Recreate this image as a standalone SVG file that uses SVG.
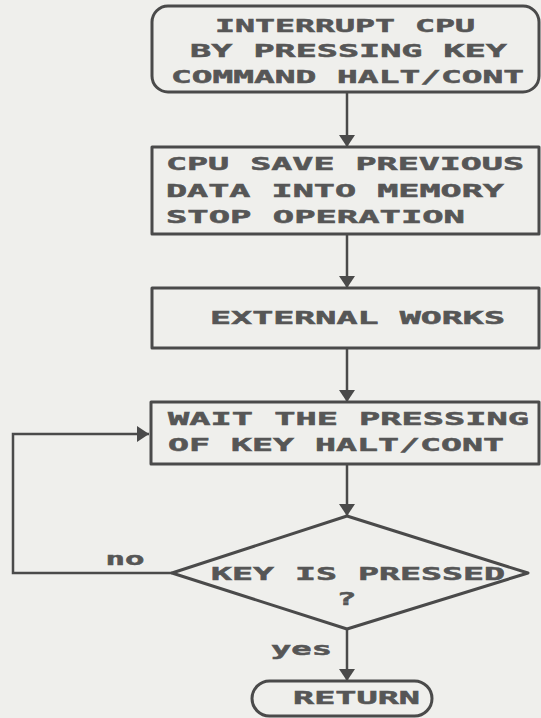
<svg xmlns="http://www.w3.org/2000/svg" width="541" height="718" viewBox="0 0 541 718">
  <style>
    .shape { fill: none; stroke: #4a4a4a; stroke-width: 3; stroke-linejoin: round; }
    .edge { fill: none; stroke: #4a4a4a; stroke-width: 2.5; }
    .lbl { font-family: "DejaVu Sans Mono", "Liberation Mono", monospace; font-weight: bold; font-size: 17.5px; fill: #565656; stroke: #565656; stroke-width: 0.5; }
    .mid { text-anchor: middle; }
  </style>
  <defs>
    <marker id="head" markerUnits="userSpaceOnUse" markerWidth="14" markerHeight="18" refX="12" refY="8" orient="auto">
      <path d="M0,0 L12,8 L0,16 Z" fill="#4a4a4a"/>
    </marker>
  </defs>

  <rect x="0" y="0" width="541" height="718" fill="#efefec"/>

  <!-- connectors -->
  <g id="connectors">
    <line class="edge" x1="347" y1="93" x2="347" y2="147" marker-end="url(#head)"/>
    <line class="edge" x1="347" y1="234" x2="347" y2="288" marker-end="url(#head)"/>
    <line class="edge" x1="347" y1="348" x2="347" y2="402" marker-end="url(#head)"/>
    <line class="edge" x1="347" y1="464" x2="347" y2="516" marker-end="url(#head)"/>
    <polyline class="edge" points="172,573 13,573 13,434 149,434" marker-end="url(#head)"/>
    <line class="edge" x1="347" y1="629" x2="347" y2="681" marker-end="url(#head)"/>
    <text class="lbl mid" x="125" y="565" textLength="39" lengthAdjust="spacingAndGlyphs">no</text>
    <text class="lbl mid" x="301.5" y="655" textLength="61" lengthAdjust="spacingAndGlyphs">yes</text>
  </g>

  <!-- start terminator -->
  <g id="start">
    <rect class="shape" x="152" y="6" width="387" height="86" rx="16" ry="16"/>
    <text class="lbl mid" x="345" y="32" textLength="260" lengthAdjust="spacingAndGlyphs">INTERRUPT CPU</text>
    <text class="lbl mid" x="348.5" y="57" textLength="317" lengthAdjust="spacingAndGlyphs">BY PRESSING KEY</text>
    <text class="lbl mid" x="347.5" y="83" textLength="353" lengthAdjust="spacingAndGlyphs">COMMAND HALT/CONT</text>
  </g>

  <!-- save state -->
  <g id="save">
    <rect class="shape" x="152" y="147" width="387" height="87"/>
    <text class="lbl" x="166" y="170" textLength="358" lengthAdjust="spacingAndGlyphs">CPU SAVE PREVIOUS</text>
    <text class="lbl" x="166" y="197" textLength="338" lengthAdjust="spacingAndGlyphs">DATA INTO MEMORY</text>
    <text class="lbl" x="166" y="223" textLength="299" lengthAdjust="spacingAndGlyphs">STOP OPERATION</text>
  </g>

  <!-- external works -->
  <g id="external">
    <rect class="shape" x="152" y="288" width="387" height="60"/>
    <text class="lbl mid" x="357.5" y="324" textLength="295" lengthAdjust="spacingAndGlyphs">EXTERNAL WORKS</text>
  </g>

  <!-- wait for key -->
  <g id="wait">
    <rect class="shape" x="151" y="402" width="388" height="62"/>
    <text class="lbl" x="168" y="425" textLength="361" lengthAdjust="spacingAndGlyphs">WAIT THE PRESSING</text>
    <text class="lbl" x="168" y="451" textLength="336" lengthAdjust="spacingAndGlyphs">OF KEY HALT/CONT</text>
  </g>

  <!-- decision -->
  <g id="decision">
    <polygon class="shape" points="347,516 528,573 347,629 172,573"/>
    <text class="lbl mid" x="358" y="580" textLength="294" lengthAdjust="spacingAndGlyphs">KEY IS PRESSED</text>
    <text class="lbl mid" x="346.5" y="605" textLength="20" lengthAdjust="spacingAndGlyphs">?</text>
  </g>

  <!-- end terminator -->
  <g id="return">
    <rect class="shape" x="252" y="681" width="180" height="35" rx="17.5" ry="17.5"/>
    <text class="lbl mid" x="356.5" y="704" textLength="127" lengthAdjust="spacingAndGlyphs">RETURN</text>
  </g>
</svg>
